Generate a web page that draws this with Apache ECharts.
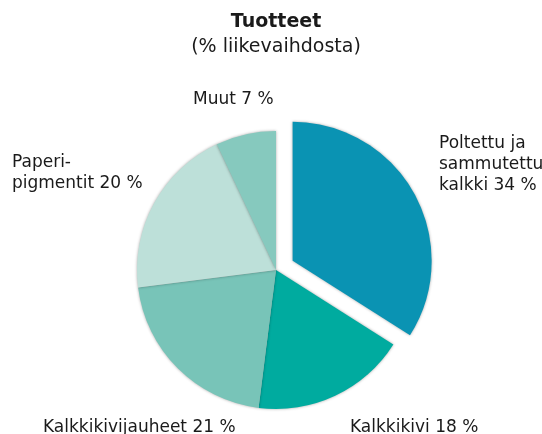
<!DOCTYPE html>
<html>
<head>
<meta charset="utf-8">
<script src="https://cdn.jsdelivr.net/npm/echarts@6/dist/echarts.min.js"></script>
<style>
html,body{margin:0;padding:0;background:#fff;}
#chart{width:542px;height:434px;}
</style>
</head>
<body>
<div id="chart"></div>
<script>
const categories = ['Poltettu ja\nsammutettu\nkalkki', 'Kalkkikivi', 'Kalkkikivijauheet', 'Paperi-\npigmentit', 'Muut'];
const values = [34, 18, 21, 20, 7];
const colors = ['#0a93b3', '#00ab9f', '#78c4b8', '#bde0d9', '#86c9be'];
const titleText = 'Tuotteet';
const subtitleText = '(% liikevaihdosta)';

// label anchor positions (left edge, vertical middle)
const labelPos = [[439, 165], [350, 428], [43, 428], [12, 173], [193, 100]];

const chart = echarts.init(document.getElementById('chart'), null, {renderer: 'canvas'});
const font = '"DejaVu Sans", sans-serif';

const labelGraphics = categories.map((c, i) => ({
  type: 'text',
  x: labelPos[i][0],
  y: labelPos[i][1],
  style: {
    text: c + ' ' + values[i] + ' %',
    font: '17px ' + font,
    lineHeight: 21,
    fill: '#1a1a1a',
    textAlign: 'left',
    textVerticalAlign: 'middle'
  }
}));

chart.setOption({
  animation: false,
  backgroundColor: '#ffffff',
  graphic: [
    {type: 'text', x: 276, y: 22, style: {text: titleText, font: 'bold 19px ' + font, fill: '#1a1a1a', textAlign: 'center', textVerticalAlign: 'middle'}},
    {type: 'text', x: 276, y: 47, style: {text: subtitleText, font: '19px ' + font, fill: '#1a1a1a', textAlign: 'center', textVerticalAlign: 'middle'}}
  ].concat(labelGraphics),
  series: [{
    type: 'pie',
    center: [276, 270],
    radius: [0, 139],
    startAngle: 90,
    clockwise: true,
    selectedMode: 'single',
    selectedOffset: 19,
    avoidLabelOverlap: false,
    emphasis: {disabled: true},
    itemStyle: {shadowBlur: 3, shadowColor: 'rgba(0,0,0,0.35)'},
    label: {show: false},
    labelLine: {show: false},
    data: categories.map((c, i) => ({
      name: c,
      value: values[i],
      selected: i === 0,
      itemStyle: {color: colors[i]}
    }))
  }]
});
</script>
</body>
</html>
